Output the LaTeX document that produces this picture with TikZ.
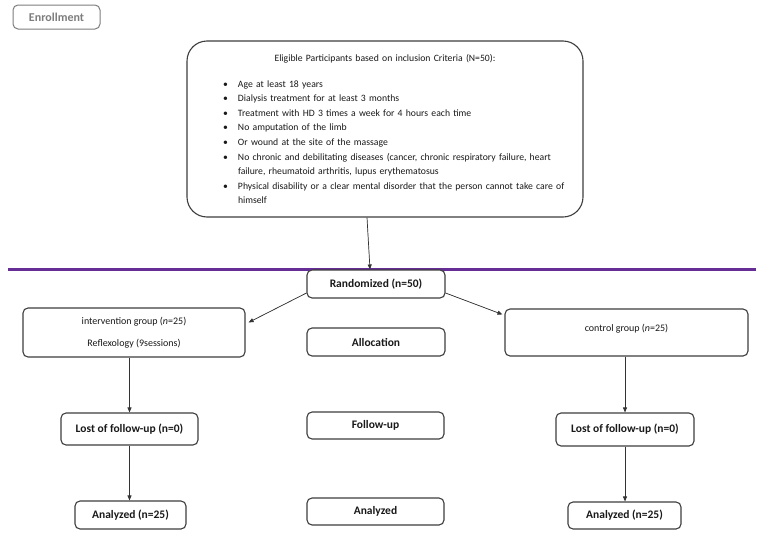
\documentclass[tikz,border=0pt]{standalone}
\usepackage{fontspec}
\setmainfont{Carlito}
\usetikzlibrary{arrows.meta,calc}
\definecolor{boxline}{RGB}{62,62,62}
\definecolor{divline}{RGB}{102,45,150}
\definecolor{enrgray}{RGB}{125,125,125}
\newcommand{\critem}[1]{\par\leftskip=36pt\hangindent=15pt\hangafter=1\noindent\makebox[15pt][l]{\textbullet}#1\par}
\begin{document}
\begin{tikzpicture}[x=1pt,y=-1pt,
  box/.style={draw=boxline, line width=1.1pt, rounded corners=5pt, inner sep=0pt, align=center, fill=white},
  lbl/.style={font=\fontsize{11.5}{13}\selectfont\bfseries, text=black!90},
  sml/.style={font=\fontsize{10}{12}\selectfont, text=black!90},
  arr/.style={-{Triangle[length=5pt,width=4pt]}, line width=0.7pt, draw=black!80, fill=black!80},
  ]
\useasboundingbox (0,0) rectangle (760,533);

% enrollment tag
\node[box, draw=enrgray, line width=1pt, minimum width=87pt, minimum height=24pt,
      font=\fontsize{12}{13}\selectfont\bfseries, text=enrgray] (enroll) at (56.5,17) {Enrollment};

% eligibility box
\node[box, rounded corners=20pt, minimum width=396pt, minimum height=176pt, text width=396pt,
      align=left, font=\fontsize{9.7}{14.6}\selectfont, text=black!90] (elig) at (385,129) {%
  {\centering Eligible Participants based on inclusion Criteria (N=50):\par}%
  \vspace{11.4pt}%
  \critem{Age at least 18 years}%
  \critem{Dialysis treatment for at least 3 months}%
  \critem{Treatment with HD 3 times a week for 4 hours each time}%
  \critem{No amputation of the limb}%
  \critem{Or wound at the site of the massage}%
  \critem{No chronic and debilitating diseases (cancer, chronic respiratory failure, heart\newline failure, rheumatoid arthritis, lupus erythematosus}%
  \critem{Physical disability or a clear mental disorder that the person cannot take care of\newline himself}};

% divider
\coordinate (divL) at (8,269);
\coordinate (divR) at (756,269);
\draw[line width=3pt, divline] (divL) -- (divR);

% allocation row
\node[box, lbl, minimum width=138pt, minimum height=28pt] (rand) at (376,284) {Randomized (n=50)};
\node[box, sml, minimum width=222pt, minimum height=49pt] (int) at (134,332.5)
  {intervention group (\textit{n}=25)\\[10pt]Reflexology (9sessions)};
\node[box, lbl, minimum width=138pt, minimum height=28pt] (alloc) at (376,342) {Allocation};
\node[box, sml, minimum width=243pt, minimum height=47pt] (ctrl) at (626.5,332.5)
  {\raisebox{9pt}{control group (\textit{n}=25)}};

% follow-up row
\node[box, lbl, minimum width=137pt, minimum height=32pt] (lostL) at (129.5,429) {Lost of follow-up (n=0)};
\node[box, lbl, minimum width=137pt, minimum height=27pt] (follow) at (375.5,425.5) {Follow-up};
\node[box, lbl, minimum width=138pt, minimum height=33pt] (lostR) at (625,429.5) {Lost of follow-up (n=0)};

% analysis row
\node[box, lbl, minimum width=111pt, minimum height=28pt] (anaL) at (130.5,515) {Analyzed (n=25)};
\node[box, lbl, minimum width=137pt, minimum height=27pt] (anaC) at (375.5,511.5) {Analyzed};
\node[box, lbl, minimum width=113pt, minimum height=27pt] (anaR) at (624.5,515.5) {Analyzed (n=25)};

% connectors
\draw[arr] ([xshift=-18pt]elig.south) -- ([xshift=-6pt]rand.north);
\draw[arr] ([yshift=-9pt]rand.west) -- ([xshift=3pt,yshift=-15pt]int.north east);
\draw[arr] ([yshift=-9pt]rand.east) -- ([xshift=-2pt,yshift=-6pt]ctrl.north west);
\draw[arr] (lostL.north |- int.south) -- (lostL.north);
\draw[arr] (lostR.north |- ctrl.south) -- (lostR.north);
\draw[arr] (lostL.south) -- (lostL.south |- anaL.north);
\draw[arr] (lostR.south) -- (lostR.south |- anaR.north);
\end{tikzpicture}
\end{document}
